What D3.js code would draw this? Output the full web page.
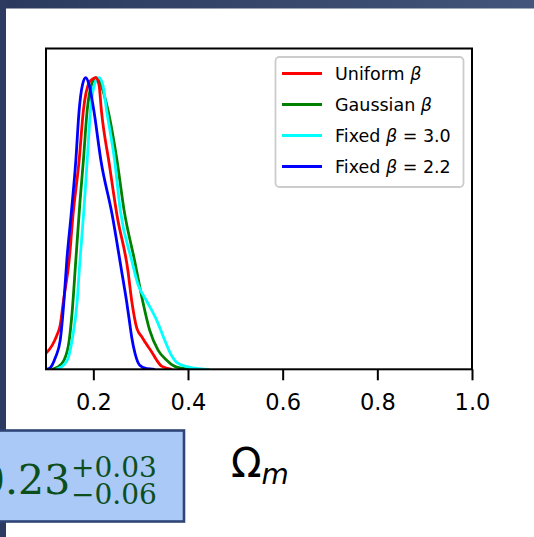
<!DOCTYPE html>
<html>
<head>
<meta charset="utf-8">
<script src="https://cdn.jsdelivr.net/npm/d3@7"></script>
<style>
  body { margin: 0; background: #fff; }
  svg { display: block; }
</style>
</head>
<body>
<svg id="chart" width="534" height="537"></svg>
<script>
// Omega_m values and normalised densities
const uniformX  = [0.100, 0.113, 0.123, 0.130, 0.137, 0.149, 0.157, 0.170, 0.179, 0.191, 0.198, 0.205, 0.212, 0.217, 0.234, 0.250, 0.273, 0.281, 0.292, 0.303, 0.311, 0.324, 0.334, 0.345, 0.366];
const uniformY  = [0.055, 0.082, 0.117, 0.151, 0.236, 0.374, 0.528, 0.716, 0.888, 0.983, 0.995, 1.000, 0.975, 0.888, 0.700, 0.528, 0.339, 0.236, 0.140, 0.110, 0.089, 0.058, 0.031, 0.010, 0.000];

const gaussianX = [0.113, 0.124, 0.138, 0.149, 0.155, 0.163, 0.172, 0.179, 0.187, 0.196, 0.206, 0.216, 0.231, 0.250, 0.265, 0.287, 0.304, 0.319, 0.337, 0.355, 0.372, 0.404];
const gaussianY = [0.000, 0.007, 0.031, 0.099, 0.192, 0.374, 0.579, 0.716, 0.888, 0.975, 1.000, 0.975, 0.888, 0.716, 0.545, 0.374, 0.236, 0.134, 0.065, 0.031, 0.010, 0.000];

const fixed30X  = [0.121, 0.131, 0.145, 0.155, 0.166, 0.171, 0.180, 0.187, 0.194, 0.203, 0.212, 0.220, 0.228, 0.245, 0.257, 0.281, 0.295, 0.312, 0.334, 0.351, 0.365, 0.376, 0.404, 0.446];
const fixed30Y  = [0.000, 0.007, 0.031, 0.099, 0.236, 0.356, 0.545, 0.716, 0.888, 0.980, 1.000, 0.975, 0.888, 0.716, 0.545, 0.374, 0.288, 0.236, 0.168, 0.099, 0.048, 0.024, 0.007, 0.000];

const fixed22X  = [0.100, 0.108, 0.120, 0.130, 0.138, 0.144, 0.153, 0.163, 0.170, 0.177, 0.184, 0.191, 0.201, 0.216, 0.240, 0.256, 0.263, 0.270, 0.276, 0.281, 0.288, 0.298, 0.313, 0.330];
const fixed22Y  = [0.000, 0.004, 0.041, 0.099, 0.236, 0.374, 0.528, 0.716, 0.888, 0.975, 1.000, 0.975, 0.888, 0.716, 0.528, 0.374, 0.305, 0.236, 0.168, 0.111, 0.055, 0.014, 0.002, 0.000];

const xTicks = [0.2, 0.4, 0.6, 0.8, 1.0];

const series = [
  { key: "gaussian", label: "Gaussian", suffix: "", xs: gaussianX, ys: gaussianY, color: "#008000" },
  { key: "fixed30", label: "Fixed", suffix: "3.0", xs: fixed30X, ys: fixed30Y, color: "#00ffff" },
  { key: "uniform", label: "Uniform", suffix: "", xs: uniformX, ys: uniformY, color: "#ff0000" },
  { key: "fixed22", label: "Fixed", suffix: "2.2", xs: fixed22X, ys: fixed22Y, color: "#0000ff" }
];
const legendOrder = ["uniform", "gaussian", "fixed30", "fixed22"];

const svg = d3.select("#chart");

// slide background bits
const defs = svg.append("defs");
const grad = defs.append("linearGradient").attr("id", "band");
grad.append("stop").attr("offset", "0%").attr("stop-color", "#2b395e");
grad.append("stop").attr("offset", "100%").attr("stop-color", "#43557a");
svg.append("rect").attr("x", 0).attr("y", 0).attr("width", 534).attr("height", 8.5).attr("fill", "url(#band)");
svg.append("rect").attr("x", 0).attr("y", 0).attr("width", 6).attr("height", 537).attr("fill", "#2d3b61");

const plot = { left: 46, right: 472, top: 48.5, bottom: 369.3 };

const x = d3.scaleLinear().domain([0.1, 1.0]).range([plot.left, plot.right]);
const y = d3.scaleLinear().domain([0, 1.1]).range([plot.bottom, plot.top]);

defs.append("clipPath").attr("id", "clip")
  .append("rect")
  .attr("x", plot.left).attr("y", plot.top)
  .attr("width", plot.right - plot.left).attr("height", plot.bottom - plot.top);

const line = d3.line()
  .x(d => x(d[0]))
  .y(d => y(d[1]))
  .curve(d3.curveMonotoneX);

svg.append("g").attr("clip-path", "url(#clip)")
  .selectAll("path")
  .data(series)
  .enter()
  .append("path")
  .attr("d", s => line(s.xs.map((v, i) => [v, s.ys[i]])))
  .attr("fill", "none")
  .attr("stroke", s => s.color)
  .attr("stroke-width", 2.8)
  .attr("stroke-linejoin", "round");

// x axis
const xAxis = svg.append("g")
  .attr("transform", `translate(0,${plot.bottom})`)
  .call(d3.axisBottom(x).tickValues(xTicks).tickFormat(d3.format(".1f")).tickSize(11).tickPadding(14).tickSizeOuter(0));
xAxis.select(".domain").remove();
xAxis.selectAll(".tick line").attr("stroke", "#000").attr("stroke-width", 2);
xAxis.selectAll(".tick text")
  .attr("font-family", "DejaVu Sans")
  .attr("font-size", 22.5)
  .attr("fill", "#000");

// frame
svg.append("rect")
  .attr("x", plot.left).attr("y", plot.top)
  .attr("width", plot.right - plot.left).attr("height", plot.bottom - plot.top)
  .attr("fill", "none").attr("stroke", "#000").attr("stroke-width", 2);

// legend
const legend = svg.append("g");
legend.append("rect")
  .attr("x", 275.5).attr("y", 57).attr("width", 188).attr("height", 130)
  .attr("rx", 4).attr("fill", "#fff").attr("stroke", "#cccccc").attr("stroke-width", 1.8);

const rows = legend.selectAll("g.row")
  .data(legendOrder.map(k => series.find(s => s.key === k)))
  .enter()
  .append("g")
  .attr("class", "row")
  .attr("transform", (d, i) => `translate(0,${73.5 + i * 31})`);

rows.append("line")
  .attr("x1", 282).attr("x2", 322)
  .attr("stroke", d => d.color).attr("stroke-width", 3);

const txt = rows.append("text")
  .attr("x", 335).attr("y", 6.5)
  .attr("font-family", "DejaVu Sans").attr("font-size", 17.5).attr("fill", "#000");
txt.append("tspan").text(d => d.label + " ");
txt.append("tspan").attr("font-style", "italic").text("β");
txt.filter(d => d.suffix).append("tspan").text(d => " = " + d.suffix);

// axis label
const xl = svg.append("text")
  .attr("x", 231).attr("y", 476.5)
  .attr("font-family", "DejaVu Sans").attr("fill", "#000");
xl.append("tspan").attr("font-size", 40).text("Ω");
xl.append("tspan").attr("font-size", 28).attr("font-style", "italic").attr("dy", 7).text("m");

// result box
svg.append("rect")
  .attr("x", -5).attr("y", 430.5).attr("width", 189).attr("height", 91)
  .attr("fill", "#abc9f6").attr("stroke", "#2f4576").attr("stroke-width", 2.6);

const res = svg.append("g").attr("font-family", "DejaVu Serif").attr("fill", "#0c4f1d");
res.append("text").attr("x", -21).attr("y", 494).attr("font-size", 41).text("0.23");
res.append("text").attr("x", 71).attr("y", 477).attr("font-size", 28).text("+0.03");
res.append("text").attr("x", 71).attr("y", 504).attr("font-size", 28).text("−0.06");
</script>
</body>
</html>
